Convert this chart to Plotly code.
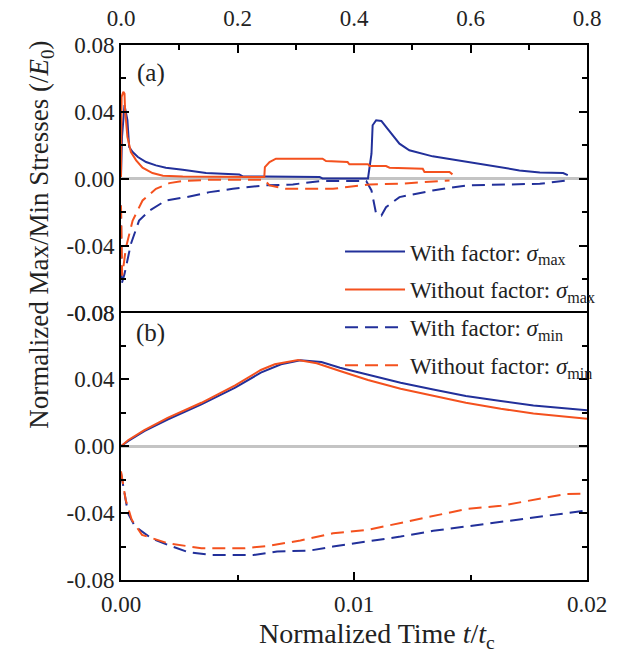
import plotly.graph_objects as go

# ---------------- data ----------------
# Panel (a): long time range, t/tc from 0 to 0.8
a_wf_max_x = [0, 0.0017, 0.006, 0.011, 0.014, 0.02, 0.029, 0.043, 0.06, 0.077, 0.106, 0.146, 0.203, 0.209,
              0.249, 0.341, 0.346, 0.424, 0.43, 0.432, 0.438, 0.447, 0.455, 0.467, 0.478, 0.495, 0.518,
              0.535, 0.564, 0.593, 0.621, 0.65, 0.684, 0.719, 0.759, 0.767]
a_wf_max_y = [0.001, 0.025, 0.044, 0.035, 0.019, 0.016, 0.013, 0.010, 0.008, 0.0066, 0.0054, 0.0034, 0.0026,
              0.0014, 0.0014, 0.001, 0.0002, 0.0002, 0.015, 0.032, 0.035, 0.0346, 0.031, 0.026, 0.021, 0.017,
              0.015, 0.0134, 0.0118, 0.0102, 0.0086, 0.007, 0.005, 0.0038, 0.0034, 0.0022]

a_wo_max_x = [0, 0.001, 0.004, 0.006, 0.007, 0.011, 0.017, 0.026, 0.037, 0.054, 0.072, 0.106, 0.246, 0.247,
              0.255, 0.266, 0.346, 0.352, 0.389, 0.392, 0.424, 0.427, 0.455, 0.461, 0.518, 0.521, 0.564, 0.569]
a_wo_max_y = [0.001, 0.049, 0.052, 0.051, 0.041, 0.025, 0.016, 0.011, 0.0066, 0.0034, 0.0018, 0.0014, 0.001,
              0.007, 0.010, 0.012, 0.012, 0.0106, 0.010, 0.0086, 0.0086, 0.0076, 0.0076, 0.0066, 0.006, 0.004,
              0.004, 0.0026]

a_wf_min_x = [0, 0.001, 0.006, 0.017, 0.031, 0.049, 0.077, 0.112, 0.152, 0.192, 0.246, 0.295, 0.341, 0.421,
              0.43, 0.438, 0.447, 0.455, 0.478, 0.535, 0.593, 0.65, 0.719, 0.767]
a_wf_min_y = [-0.016, -0.063, -0.057, -0.039, -0.025, -0.019, -0.013, -0.011, -0.008, -0.006, -0.004, -0.0034,
              -0.0014, -0.0014, -0.007, -0.021, -0.022, -0.017, -0.011, -0.007, -0.004, -0.0034, -0.003, -0.001]

a_wo_min_x = [0, 0.002, 0.0086, 0.02, 0.037, 0.06, 0.083, 0.106, 0.152, 0.246, 0.255, 0.283, 0.364, 0.427,
              0.478, 0.564]
a_wo_min_y = [-0.016, -0.058, -0.041, -0.025, -0.013, -0.006, -0.0026, -0.0014, -0.0006, -0.0006, -0.004,
              -0.006, -0.006, -0.0034, -0.003, -0.001]

# Panel (b): early time range, t/tc from 0 to 0.02
b_wf_max_x = [0, 0.0003, 0.001, 0.002, 0.00345, 0.0049, 0.006, 0.00687, 0.0077, 0.0086, 0.0094, 0.0106,
              0.012, 0.0134, 0.0148, 0.0163, 0.0177, 0.02]
b_wf_max_y = [0, 0.003, 0.009, 0.016, 0.025, 0.035, 0.044, 0.049, 0.0514, 0.0504, 0.047, 0.043, 0.038,
              0.034, 0.030, 0.027, 0.0244, 0.0216]

b_wo_max_x = [0, 0.0003, 0.001, 0.002, 0.00345, 0.0049, 0.006, 0.0066, 0.0076, 0.0084, 0.0094, 0.0106,
              0.012, 0.0134, 0.0148, 0.0163, 0.0177, 0.02]
b_wo_max_y = [0, 0.0036, 0.0096, 0.017, 0.026, 0.0364, 0.0456, 0.049, 0.0516, 0.0496, 0.045, 0.0396,
              0.0344, 0.030, 0.026, 0.0224, 0.0196, 0.0164]

b_wf_min_x = [0, 0.0003, 0.0006, 0.0013, 0.002, 0.0029, 0.0039, 0.0057, 0.0067, 0.0081, 0.0091, 0.0106,
              0.012, 0.0134, 0.0148, 0.0163, 0.0177, 0.02]
b_wf_min_y = [-0.016, -0.04, -0.048, -0.055, -0.059, -0.0634, -0.065, -0.065, -0.063, -0.0624, -0.060,
              -0.057, -0.054, -0.0506, -0.048, -0.045, -0.0426, -0.0384]

b_wo_min_x = [0, 0.0002, 0.00046, 0.0009, 0.002, 0.00345, 0.0053, 0.0063, 0.0077, 0.0091, 0.0106, 0.012,
              0.0134, 0.0148, 0.0163, 0.0177, 0.0191, 0.02]
b_wo_min_y = [-0.015, -0.032, -0.044, -0.053, -0.058, -0.061, -0.061, -0.0596, -0.0564, -0.052, -0.050,
              -0.046, -0.042, -0.0376, -0.0356, -0.032, -0.0286, -0.0284]

series_names = ["With factor: <i>σ</i><sub>max</sub>",
                "Without factor: <i>σ</i><sub>max</sub>",
                "With factor: <i>σ</i><sub>min</sub>",
                "Without factor: <i>σ</i><sub>min</sub>"]

y_tickvals = [-0.08, -0.04, 0.0, 0.04, 0.08]
y_ticktext = ["-0.08", "-0.04", "0.00", "0.04", "0.08"]
top_x_tickvals = [0, 0.2, 0.4, 0.6, 0.8]
top_x_ticktext = ["0.0", "0.2", "0.4", "0.6", "0.8"]
bot_x_tickvals = [0, 0.01, 0.02]
bot_x_ticktext = ["0.00", "0.01", "0.02"]

# ---------------- style ----------------
BLUE = "#22309a"
ORANGE = "#f4511e"
FONT = "Liberation Serif"
TXT = "#222"
DASH = "13px,7px"

fig = go.Figure()

b_data = [(b_wf_max_x, b_wf_max_y, BLUE, "solid"),
          (b_wo_max_x, b_wo_max_y, ORANGE, "solid"),
          (b_wf_min_x, b_wf_min_y, BLUE, DASH),
          (b_wo_min_x, b_wo_min_y, ORANGE, DASH)]
a_data = [(a_wf_max_x, a_wf_max_y, BLUE, "solid"),
          (a_wo_max_x, a_wo_max_y, ORANGE, "solid"),
          (a_wf_min_x, a_wf_min_y, BLUE, DASH),
          (a_wo_min_x, a_wo_min_y, ORANGE, DASH)]

for i, (x, y, c, d) in enumerate(b_data):
    fig.add_trace(go.Scatter(x=x, y=y, mode="lines", name=series_names[i], legendgroup=f"g{i}",
                             line=dict(color=c, width=2, dash=d), xaxis="x", yaxis="y", showlegend=True))
for i, (x, y, c, d) in enumerate(a_data):
    fig.add_trace(go.Scatter(x=x, y=y, mode="lines", name=series_names[i], legendgroup=f"g{i}",
                             line=dict(color=c, width=2, dash=d), xaxis="x2", yaxis="y2", showlegend=False))

axis_common = dict(showline=True, linecolor="black", linewidth=2, showgrid=False, automargin=False,
                   ticks="inside", tickwidth=2, ticklen=8, tickcolor="black",
                   tickfont=dict(family=FONT, size=23, color=TXT))

yaxis_common = dict(axis_common, range=[-0.08, 0.08], tickvals=y_tickvals, ticktext=y_ticktext,
                    mirror="ticks", zeroline=True, zerolinecolor="#c4c4c4", zerolinewidth=3,
                    minor=dict(dtick=0.02, tick0=0, ticks="inside", ticklen=5, tickwidth=2, tickcolor="black"))

fig.update_layout(
    width=634, height=657,
    margin=dict(l=121, r=47, t=45, b=77, autoexpand=False),
    paper_bgcolor="white", plot_bgcolor="white",
    xaxis=dict(axis_common, domain=[0, 1], range=[0, 0.02], anchor="y", mirror=True,
               tickvals=bot_x_tickvals, ticktext=bot_x_ticktext, ticklabelstandoff=2,
               minor=dict(dtick=0.005, tick0=0, ticks="inside", ticklen=5, tickwidth=2, tickcolor="black")),
    yaxis=dict(yaxis_common, domain=[0, 0.5], anchor="x"),
    xaxis2=dict(axis_common, domain=[0, 1], range=[0, 0.8], anchor="y2", side="top", mirror=False,
                tickvals=top_x_tickvals, ticktext=top_x_ticktext, ticklabelstandoff=8,
                minor=dict(dtick=0.1, tick0=0, ticks="inside", ticklen=5, tickwidth=2, tickcolor="black")),
    yaxis2=dict(yaxis_common, domain=[0.5, 1], anchor="x2"),
    showlegend=True,
    legend=dict(x=0.47, y=0.654, xanchor="left", yanchor="top", bgcolor="rgba(0,0,0,0)",
                font=dict(family=FONT, size=23, color=TXT), itemwidth=60,
                tracegroupgap=5, traceorder="grouped"),
    annotations=[
        dict(text="(a)", x=0.064, y=0.948, xref="paper", yref="paper", showarrow=False,
             xanchor="center", yanchor="middle", font=dict(family=FONT, size=25, color=TXT)),
        dict(text="(b)", x=0.064, y=0.462, xref="paper", yref="paper", showarrow=False,
             xanchor="center", yanchor="middle", font=dict(family=FONT, size=25, color=TXT)),
        dict(text="Normalized Max/Min Stresses (/<i>E</i><sub>0</sub>)", x=-0.172, y=0.645,
             xref="paper", yref="paper", showarrow=False, textangle=-90,
             xanchor="center", yanchor="middle", font=dict(family=FONT, size=27, color=TXT)),
        dict(text="Normalized Time <i>t</i>/<i>t</i><sub>c</sub>", x=0.55, y=-0.103,
             xref="paper", yref="paper", showarrow=False,
             xanchor="center", yanchor="middle", font=dict(family=FONT, size=28, color=TXT)),
    ],
)

fig.write_html("out.html")
